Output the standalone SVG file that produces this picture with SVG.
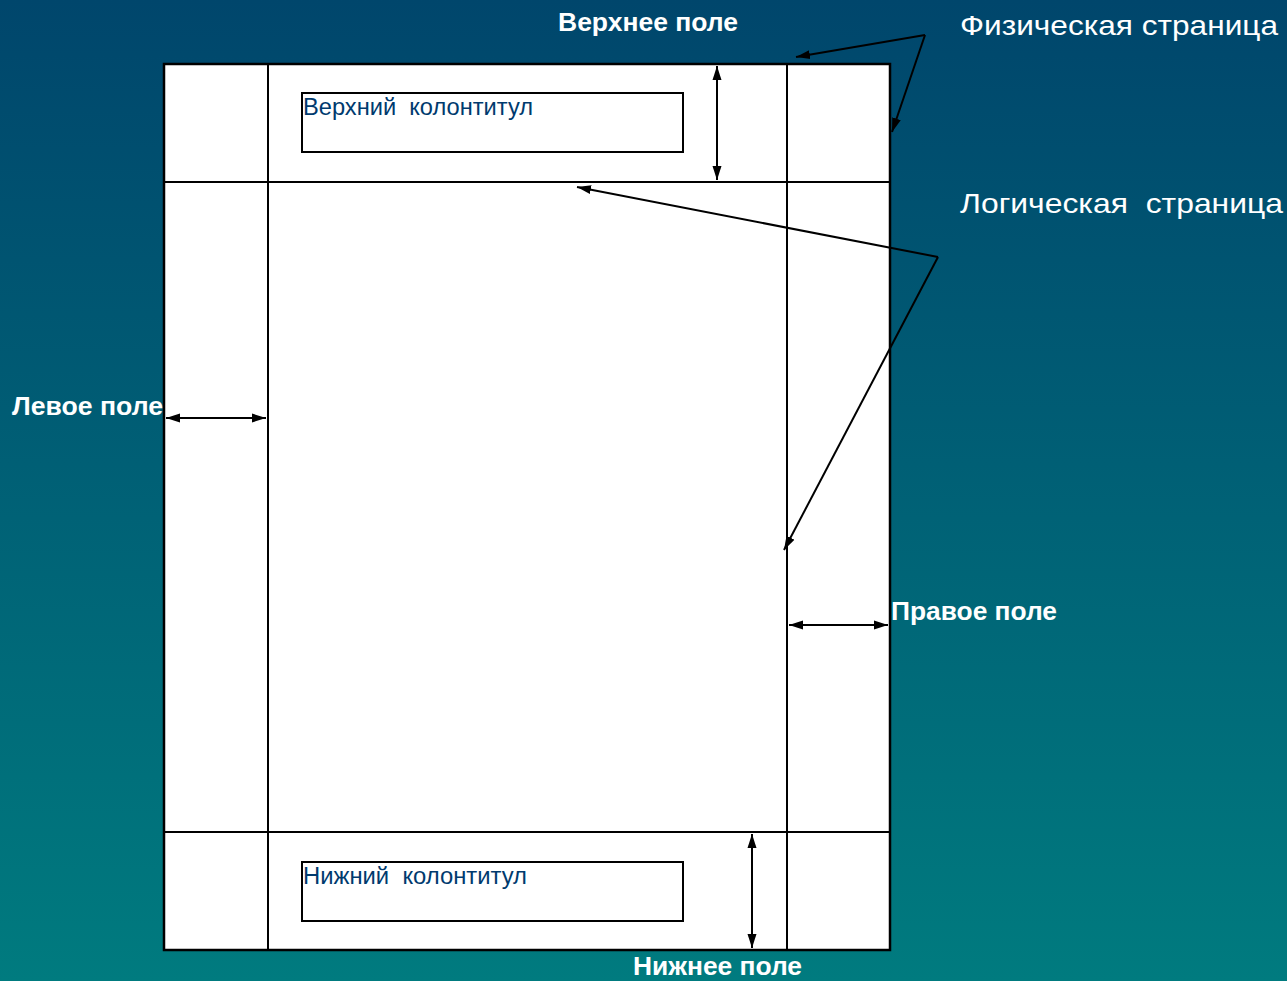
<svg xmlns="http://www.w3.org/2000/svg" width="1287" height="981" viewBox="0 0 1287 981">
<defs>
<linearGradient id="bg" x1="0" y1="0" x2="0" y2="1">
<stop offset="0" stop-color="#00466c"/>
<stop offset="1" stop-color="#007b7f"/>
</linearGradient>
<marker id="ah" viewBox="0 0 14 10" refX="14" refY="5" markerWidth="14" markerHeight="10" markerUnits="userSpaceOnUse" orient="auto-start-reverse">
<path d="M0,0.5 L14,5 L0,9.5 z" fill="#000"/>
</marker>
<style>
.ln{stroke:#000;stroke-width:2;fill:none}
.ar{stroke:#000;stroke-width:2;fill:none;marker-end:url(#ah)}
.dar{stroke:#000;stroke-width:2;fill:none;marker-start:url(#ah);marker-end:url(#ah)}
.lb{font-family:"Liberation Sans",Arial,sans-serif;font-weight:bold;font-size:25px;fill:#fff}
.lr{font-family:"Liberation Sans",Arial,sans-serif;font-size:28px;fill:#fff}
.hf{font-family:"Liberation Sans",Arial,sans-serif;font-size:23px;fill:#003a6e}
</style>
</defs>
<rect width="1287" height="981" fill="url(#bg)"/>
<g id="page">
<rect x="164" y="64" width="726" height="886" fill="#fff" stroke="#000" stroke-width="2.5"/>
<line class="ln" x1="268" y1="64" x2="268" y2="950"/>
<line class="ln" x1="787" y1="64" x2="787" y2="950"/>
<line class="ln" x1="164" y1="182" x2="890" y2="182"/>
<line class="ln" x1="164" y1="832" x2="890" y2="832"/>
</g>
<g id="header">
<rect x="302" y="93" width="381" height="59" fill="#fff" stroke="#000" stroke-width="2"/>
<text class="hf" x="303" y="115" xml:space="preserve" textLength="230" lengthAdjust="spacingAndGlyphs">Верхний  колонтитул</text>
</g>
<g id="footer">
<rect x="302" y="862" width="381" height="59" fill="#fff" stroke="#000" stroke-width="2"/>
<text class="hf" x="303" y="884" xml:space="preserve" textLength="224" lengthAdjust="spacingAndGlyphs">Нижний  колонтитул</text>
</g>
<g id="labels">
<text class="lb" x="558" y="31" textLength="180" lengthAdjust="spacingAndGlyphs">Верхнее поле</text>
<text class="lr" x="960" y="35" textLength="318" lengthAdjust="spacingAndGlyphs">Физическая страница</text>
<text class="lr" x="960" y="213" xml:space="preserve" textLength="323" lengthAdjust="spacingAndGlyphs">Логическая  страница</text>
<text class="lb" x="12" y="415" textLength="151" lengthAdjust="spacingAndGlyphs">Левое поле</text>
<text class="lb" x="891" y="620" textLength="166" lengthAdjust="spacingAndGlyphs">Правое поле</text>
<text class="lb" x="633" y="975" textLength="169" lengthAdjust="spacingAndGlyphs">Нижнее поле</text>
</g>
<g id="connectors">
<line class="ar" x1="925" y1="35" x2="796" y2="57"/>
<line class="ar" x1="925" y1="35" x2="892" y2="132"/>
<line class="ar" x1="938" y1="257" x2="577" y2="187"/>
<line class="ar" x1="938" y1="257" x2="784" y2="550"/>
<line class="dar" x1="717" y1="66" x2="717" y2="180"/>
<line class="dar" x1="752" y1="834" x2="752" y2="948"/>
<line class="dar" x1="166" y1="418" x2="266" y2="418"/>
<line class="dar" x1="789" y1="625" x2="888" y2="625"/>
</g>
</svg>
